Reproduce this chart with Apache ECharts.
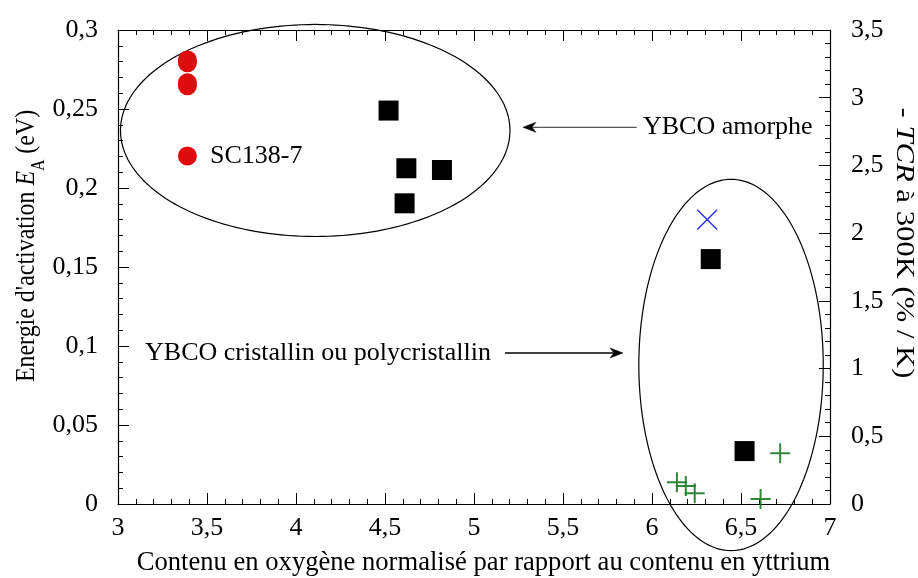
<!DOCTYPE html>
<html>
<head>
<meta charset="utf-8">
<script src="https://cdn.jsdelivr.net/npm/echarts@6/dist/echarts.min.js"></script>
<style>
html,body{margin:0;padding:0;background:#fff;}
#chart{width:918px;height:578px;}
</style>
</head>
<body>
<div id="chart"></div>
<script>
// ---- data ----
const xTicks = [3, 3.5, 4, 4.5, 5, 5.5, 6, 6.5, 7];
const leftTicks = [0, 0.05, 0.1, 0.15, 0.2, 0.25, 0.3];
const rightTicks = [0, 0.5, 1, 1.5, 2, 2.5, 3, 3.5];

// Red circles: activation energy (left axis)
const redX = [3.39, 3.39, 3.39, 3.39, 3.39];
const redY = [0.281, 0.2793, 0.2666, 0.2647, 0.2203];
const redLabels = ['', '', '', '', 'SC138-7'];

// Black squares: activation energy (left axis)
const blackX = [4.52, 4.62, 4.82, 4.61, 6.33, 6.52];
const blackY = [0.249, 0.2125, 0.2114, 0.1903, 0.155, 0.0335];

// Blue cross: -TCR at 300K (right axis)
const blueX = [6.31];
const blueY = [2.10];

// Green plus: -TCR at 300K (right axis)
const greenX = [6.14, 6.19, 6.24, 6.61, 6.72];
const greenY = [0.16, 0.133, 0.079, 0.037, 0.374];

// Annotation texts
const annotationTexts = ['YBCO amorphe', 'YBCO cristallin ou polycristallin'];

// ---- annotation geometry (data space) ----
const ellipses = [
  {cx: 4.108, cy: 0.2364, rx: 1.094, ry: 0.0671},
  {cx: 6.444, cy: 0.088, rx: 0.518, ry: 0.1175}
];
const arrows = [
  {x1: 5.914, x2: 5.275, y: 0.2384, color: '#555'},
  {x1: 5.174, x2: 5.837, y: 0.0956, color: '#000'}
];
const texts = [
  {x: 5.949, y: 0.2384},
  {x: 3.152, y: 0.0956}
];

const FONT = '"Liberation Serif", "Times New Roman", serif';
const fmt = v => String(+(+v).toFixed(3)).replace('.', ',');

const chart = echarts.init(document.getElementById('chart'), null, {renderer: 'canvas'});

const axisCommon = {
  type: 'value',
  axisLine: {show: true, onZero: false, lineStyle: {color: '#000', width: 1.2}},
  axisTick: {show: true, inside: true, length: 11, lineStyle: {color: '#000', width: 1}},
  minorTick: {show: true, splitNumber: 5, length: 5, lineStyle: {color: '#000', width: 1}},
  splitLine: {show: false},
  minorSplitLine: {show: false},
  axisLabel: {color: '#000', fontFamily: FONT, fontSize: 26, formatter: fmt, showMinLabel: true, showMaxLabel: true}
};

function renderAnnotations(params, api) {
  const children = [];
  ellipses.forEach(e => {
    const pts = [];
    const N = 180;
    for (let k = 0; k < N; k++) {
      const t = 2 * Math.PI * k / N;
      pts.push(api.coord([e.cx + e.rx * Math.cos(t), e.cy + e.ry * Math.sin(t)]));
    }
    children.push({type: 'polygon', shape: {points: pts}, style: {fill: 'none', stroke: '#000', lineWidth: 1.2}, silent: true});
  });
  arrows.forEach(a => {
    const p1 = api.coord([a.x1, a.y]);
    const p2 = api.coord([a.x2, a.y]);
    const dir = p2[0] > p1[0] ? 1 : -1;
    children.push({type: 'line', shape: {x1: p1[0], y1: p1[1], x2: p2[0] - dir * 4, y2: p2[1]}, style: {stroke: a.color, lineWidth: 1.4}, silent: true});
    const hx = p2[0], hy = p2[1];
    children.push({type: 'polygon', shape: {points: [
      [hx, hy], [hx - dir * 13, hy - 5], [hx - dir * 9, hy], [hx - dir * 13, hy + 5]
    ]}, style: {fill: '#000', stroke: '#000', lineWidth: 0.5}, silent: true});
  });
  texts.forEach((t, i) => {
    const p = api.coord([t.x, t.y]);
    children.push({type: 'text', x: p[0], y: p[1], style: {
      text: annotationTexts[i], fill: '#000', font: '26px ' + FONT, align: 'left', verticalAlign: 'middle'
    }, silent: true});
  });
  return {type: 'group', children};
}

const option = {
  animation: false,
  backgroundColor: '#fff',
  grid: {left: 118, right: 88, top: 30, bottom: 74, containLabel: false, outerBoundsMode: 'none'},
  xAxis: [
    Object.assign({}, axisCommon, {
      min: xTicks[0], max: xTicks[xTicks.length - 1], interval: 0.5, position: 'bottom',
      axisLabel: Object.assign({}, axisCommon.axisLabel, {margin: 11}),
      name: 'Contenu en oxygène normalisé par rapport au contenu en yttrium',
      nameLocation: 'middle', nameGap: 46,
      nameTextStyle: {color: '#000', fontFamily: FONT, fontSize: 26.6, padding: [0, 0, 0, 19]}
    }),
    Object.assign({}, axisCommon, {
      min: xTicks[0], max: xTicks[xTicks.length - 1], interval: 0.5, position: 'top',
      axisLabel: {show: false}
    })
  ],
  yAxis: [
    Object.assign({}, axisCommon, {
      min: leftTicks[0], max: leftTicks[leftTicks.length - 1], interval: 0.05, position: 'left',
      axisLabel: Object.assign({}, axisCommon.axisLabel, {margin: 20})
    }),
    Object.assign({}, axisCommon, {
      min: rightTicks[0], max: rightTicks[rightTicks.length - 1], interval: 0.5, position: 'right',
      axisLabel: Object.assign({}, axisCommon.axisLabel, {margin: 21})
    })
  ],
  graphic: [
    {
      type: 'text', x: 29, y: 246, rotation: Math.PI / 2, scaleX: 0.855, scaleY: 1,
      style: {
        text: "{n|Energie d'activation }{i|E}{s|A}{n| (eV)}",
        align: 'center', verticalAlign: 'middle', fill: '#000',
        rich: {
          n: {fontFamily: FONT, fontSize: 28, lineHeight: 32, verticalAlign: 'top', fill: '#000'},
          i: {fontFamily: FONT, fontSize: 28, lineHeight: 32, fontStyle: 'italic', verticalAlign: 'top', fill: '#000'},
          s: {fontFamily: FONT, fontSize: 18, lineHeight: 18, padding: [17, 0, 0, 0], verticalAlign: 'top', fill: '#000'}
        }
      }
    },
    {
      type: 'text', x: 904, y: 243, rotation: -Math.PI / 2, scaleX: 1.18, scaleY: 1,
      style: {
        text: '{n|- }{i|TCR}{n| à 300K (% / K)}',
        align: 'center', verticalAlign: 'middle', fill: '#000',
        rich: {
          n: {fontFamily: FONT, fontSize: 26, lineHeight: 30, fill: '#000'},
          i: {fontFamily: FONT, fontSize: 26, lineHeight: 30, fontStyle: 'italic', fill: '#000'}
        }
      }
    }
  ],
  series: [
    {
      type: 'custom', name: 'annotations', coordinateSystem: 'cartesian2d',
      xAxisIndex: 0, yAxisIndex: 0, clip: false, silent: true,
      data: [[5, 0.1]], renderItem: renderAnnotations, z: 1
    },
    {
      type: 'scatter', name: 'red', xAxisIndex: 0, yAxisIndex: 0,
      symbol: 'circle', symbolSize: 19,
      itemStyle: {color: '#dd0d0d', opacity: 1},
      data: redX.map((x, i) => [x, redY[i]]),
      label: {
        show: true, position: 'right', distance: 13, color: '#000',
        fontFamily: FONT, fontSize: 26,
        formatter: p => redLabels[p.dataIndex]
      },
      z: 3
    },
    {
      type: 'scatter', name: 'black', xAxisIndex: 0, yAxisIndex: 0,
      symbol: 'rect', symbolSize: 20,
      itemStyle: {color: '#000', opacity: 1},
      data: blackX.map((x, i) => [x, blackY[i]]),
      z: 3
    },
    {
      type: 'scatter', name: 'blue', xAxisIndex: 0, yAxisIndex: 1,
      symbol: 'path://M0,9.5 H20 V10.5 H0 Z M9.5,0 H10.5 V20 H9.5 Z',
      symbolSize: 28, symbolRotate: 45,
      itemStyle: {color: '#2a2af0', opacity: 1},
      data: blueX.map((x, i) => [x, blueY[i]]),
      z: 3
    },
    {
      type: 'scatter', name: 'green', xAxisIndex: 0, yAxisIndex: 1,
      symbol: 'path://M0,9 H20 V11 H0 Z M9,0 H11 V20 H9 Z',
      symbolSize: 20,
      itemStyle: {color: '#1d7a24', opacity: 0.9},
      data: greenX.map((x, i) => [x, greenY[i]]),
      z: 3
    }
  ]
};

chart.setOption(option);
</script>
</body>
</html>
